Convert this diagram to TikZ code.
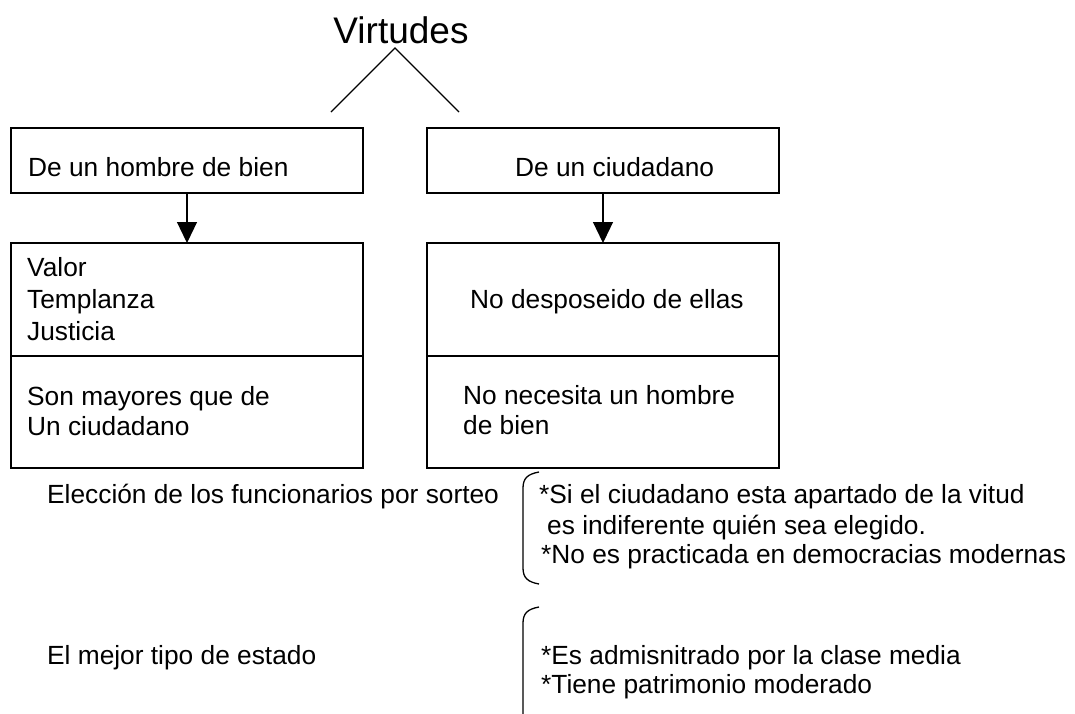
\documentclass[tikz,border=0pt]{standalone}
\usepackage{fontspec}
\setmainfont{Liberation Sans}
\usetikzlibrary{arrows.meta}
\tikzset{
  box/.style={draw, line width=1.6pt, minimum width=352pt, inner sep=0pt, outer sep=0pt},
  txt/.style={anchor=base west, inner sep=0pt, font=\fontsize{26.3}{31}\selectfont},
  conn/.style={line width=1.2pt, -{Triangle[length=21pt,width=20pt]}},
  brace/.style={line width=1.3pt}
}
\begin{document}
\begin{tikzpicture}[x=1pt,y=-1pt]
\useasboundingbox (0,0) rectangle (1075,713);
% title
\node[anchor=base, inner sep=0pt, font=\fontsize{37}{40}\selectfont] (title) at (401,43) {Virtudes};
\coordinate (apex) at (395,48);
\coordinate (ll) at (331,112);
\coordinate (rr) at (459,112);
\draw[line width=1.2pt] (ll) -- (apex) -- (rr);
% upper boxes
\node[box, minimum height=65pt] (b1) at (187,160.5) {};
\node[box, minimum height=65pt] (b2) at (603,160.5) {};
\node[txt] (t1) at (28,176) {De un hombre de bien};
\node[txt] (t2) at (515,176) {De un ciudadano};
% lower boxes
\node[box, minimum height=113pt] (c1) at (187,299.5) {};
\node[box, minimum height=112pt] (d1) at (187,412) {};
\node[box, minimum height=113pt] (c2) at (603,299.5) {};
\node[box, minimum height=112pt] (d2) at (603,412) {};
\draw[conn] (b1.south) -- (c1.north);
\draw[conn] (b2.south) -- (c2.north);
\node[txt] (v1) at (27,276) {Valor};
\node[txt] (v2) at (27,308) {Templanza};
\node[txt] (v3) at (27,340) {Justicia};
\node[txt] (s1) at (27,405) {Son mayores que de};
\node[txt] (s2) at (27,435) {Un ciudadano};
\node[txt] (n1) at (470,308) {No desposeido de ellas};
\node[txt] (n2) at (463,404) {No necesita un hombre};
\node[txt] (n3) at (463,434) {de bien};
% bottom section
\node[txt] (e1) at (47,503) {Elección de los funcionarios por sorteo};
\node[txt] (e2) at (47,664) {El mejor tipo de estado};
\draw[brace] (539,472) .. controls (528,474) and (523,478) .. (523,488) -- (523,568) .. controls (523,578) and (528,582) .. (539,584);
\draw[brace] (539,607) .. controls (528,609) and (523,613) .. (523,623) -- (523,720);
\node[txt] (r1) at (539,503) {*Si el ciudadano esta apartado de la vitud};
\node[txt] (r2) at (547,534) {es indiferente quién sea elegido.};
\node[txt] (r3) at (541,563) {*No es practicada en democracias modernas};
\node[txt] (r4) at (541,664) {*Es admisnitrado por la clase media};
\node[txt] (r5) at (541,693) {*Tiene patrimonio moderado};
\end{tikzpicture}
\end{document}
